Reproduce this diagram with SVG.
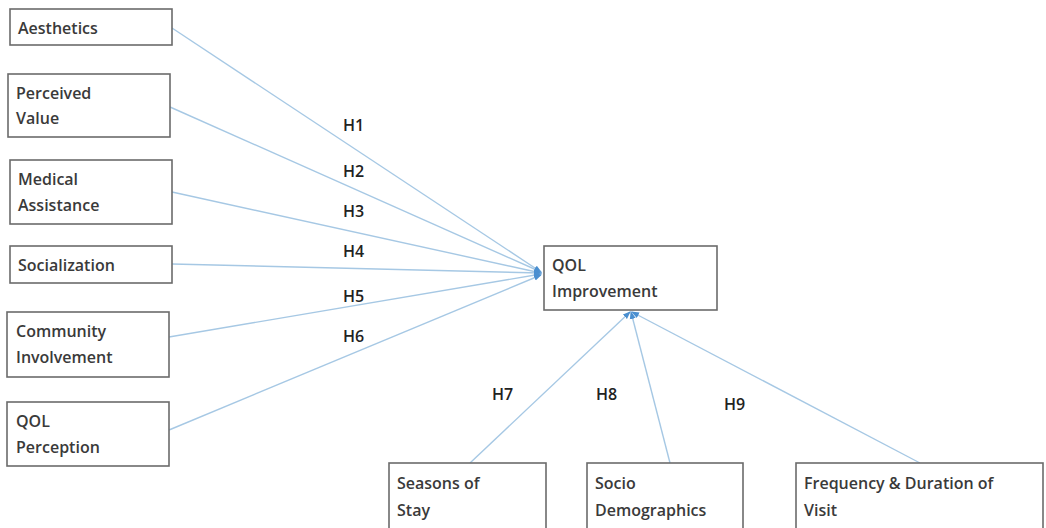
<svg xmlns="http://www.w3.org/2000/svg" width="1046" height="528" viewBox="0 0 1046 528">
<style>
.box{fill:#fff;stroke:#6b6b6b;stroke-width:1.6}
.t{font-family:"Open Sans","Liberation Sans",sans-serif;font-size:16px;font-weight:600;fill:#3a3a3a}
.h{font-family:"Open Sans","Liberation Sans",sans-serif;font-size:16px;font-weight:600;fill:#222}
.c{stroke:#a6c8e4;stroke-width:1.4;fill:none}
</style>
<defs>
<marker id="ah" markerWidth="8" markerHeight="8" refX="7" refY="4" orient="auto" markerUnits="userSpaceOnUse">
<path d="M0,1 L8,4 L0,7 z" fill="#4a8fd0"/>
</marker>
</defs>
<rect width="1046" height="528" fill="#fff"/>
<g id="connectors">
<line class="c" x1="172" y1="28" x2="541" y2="272" marker-end="url(#ah)"/>
<line class="c" x1="170" y1="107" x2="541" y2="272" marker-end="url(#ah)"/>
<line class="c" x1="172" y1="192" x2="541" y2="273" marker-end="url(#ah)"/>
<line class="c" x1="172" y1="264" x2="541" y2="273" marker-end="url(#ah)"/>
<line class="c" x1="169" y1="337" x2="541" y2="274" marker-end="url(#ah)"/>
<line class="c" x1="169" y1="430" x2="541" y2="275" marker-end="url(#ah)"/>
<line class="c" x1="470" y1="463" x2="630" y2="312" marker-end="url(#ah)"/>
<line class="c" x1="670" y1="463" x2="631" y2="312" marker-end="url(#ah)"/>
<line class="c" x1="920" y1="463" x2="632" y2="312" marker-end="url(#ah)"/>
</g>
<g id="labels">
<text class="h" x="343" y="131">H1</text>
<text class="h" x="343" y="177">H2</text>
<text class="h" x="343" y="217">H3</text>
<text class="h" x="343" y="257">H4</text>
<text class="h" x="343" y="302">H5</text>
<text class="h" x="343" y="342">H6</text>
<text class="h" x="492" y="400">H7</text>
<text class="h" x="596" y="400">H8</text>
<text class="h" x="724" y="410">H9</text>
</g>
<g id="n-aesthetics"><rect class="box" x="10" y="9" width="162" height="36"/><text class="t" x="18" y="34">Aesthetics</text></g>
<g id="n-perceived"><rect class="box" x="8" y="74" width="162" height="63"/><text class="t" x="16" y="99">Perceived</text><text class="t" x="16" y="124">Value</text></g>
<g id="n-medical"><rect class="box" x="10" y="160" width="162" height="64"/><text class="t" x="18" y="185">Medical</text><text class="t" x="18" y="211">Assistance</text></g>
<g id="n-social"><rect class="box" x="10" y="246" width="162" height="37"/><text class="t" x="18" y="271">Socialization</text></g>
<g id="n-community"><rect class="box" x="7" y="312" width="162" height="65"/><text class="t" x="16" y="337">Community</text><text class="t" x="16" y="363">Involvement</text></g>
<g id="n-qolp"><rect class="box" x="7" y="402" width="162" height="64"/><text class="t" x="16" y="427">QOL</text><text class="t" x="16" y="453">Perception</text></g>
<g id="n-qoli"><rect class="box" x="544" y="246" width="173" height="64"/><text class="t" x="552" y="271">QOL</text><text class="t" x="552" y="297">Improvement</text></g>
<g id="n-seasons"><rect class="box" x="389" y="463" width="157" height="70"/><text class="t" x="397" y="489">Seasons of</text><text class="t" x="397" y="516">Stay</text></g>
<g id="n-socio"><rect class="box" x="587" y="463" width="156" height="70"/><text class="t" x="595" y="489">Socio</text><text class="t" x="595" y="516">Demographics</text></g>
<g id="n-freq"><rect class="box" x="796" y="463" width="247" height="70"/><text class="t" x="804" y="489">Frequency &amp; Duration of</text><text class="t" x="804" y="516">Visit</text></g>
</svg>
